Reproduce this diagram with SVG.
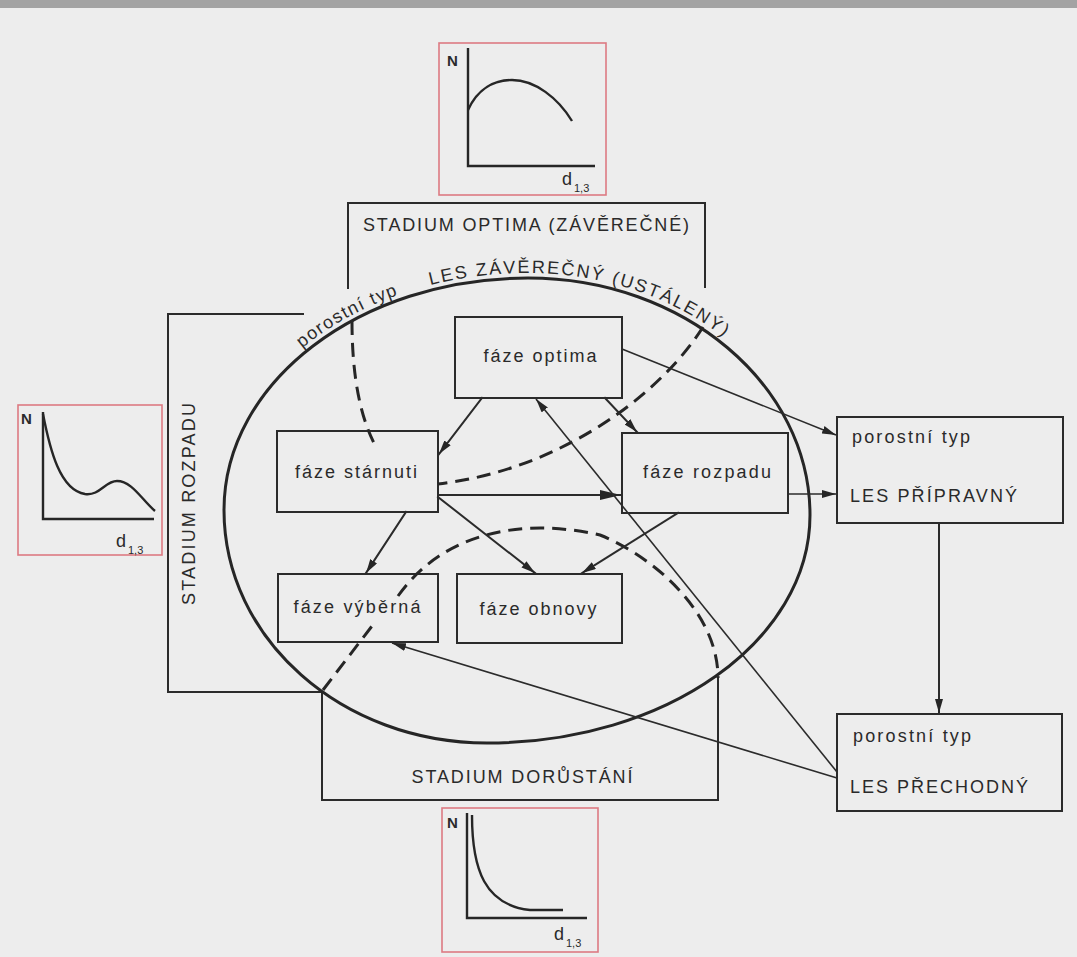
<svg xmlns="http://www.w3.org/2000/svg" width="1077" height="957" viewBox="0 0 1077 957">
<style>
.ln{fill:none;stroke:#2b2b2b;stroke-width:2;stroke-linecap:square}
.thin{fill:none;stroke:#2b2b2b;stroke-width:1.6}
.ell{fill:none;stroke:#262626;stroke-width:3}
.dash{fill:none;stroke:#262626;stroke-width:3;stroke-dasharray:14 8}
.box{fill:none;stroke:#2b2b2b;stroke-width:2}
.red{fill:none;stroke:#dc7a82;stroke-width:1.6}
.ax{fill:none;stroke:#262626;stroke-width:2.4}
.t{font-family:"Liberation Sans",Arial,sans-serif;font-size:18px;fill:#2a2a2a}
.c{text-anchor:middle}
.g{font-family:"Liberation Sans",Arial,sans-serif;fill:#2a2a2a}
</style>
<defs>
<marker id="ah" markerUnits="userSpaceOnUse" markerWidth="15" markerHeight="8" refX="14" refY="4" orient="auto">
<path d="M0,0 L14,4 L0,8 z" fill="#262626"/>
</marker>
<marker id="ahb" markerUnits="userSpaceOnUse" markerWidth="22" markerHeight="10" refX="21" refY="5" orient="auto">
<path d="M0,0 L21,5 L0,10 z" fill="#262626"/>
</marker>
<path id="arcTop" d="M219,510 C219,379 357,273 528,273 C686.5,273 815,380 815,512"/>
</defs>
<rect x="0" y="0" width="1077" height="957" fill="#ededed"/>
<rect x="0" y="0" width="1077" height="8" fill="#a3a3a3"/>

<!-- stage frames -->
<g id="stadium-optima">
<path class="ln" d="M348,288 L348,203 L705,203 L705,287"/>
<text class="t c" x="526" y="231" textLength="326" lengthAdjust="spacing">STADIUM OPTIMA (ZÁVĚREČNÉ)</text>
</g>
<g id="stadium-rozpadu">
<path class="ln" d="M303,314 L168,314 L168,692 L322,692"/>
<text class="t c" transform="translate(195,504) rotate(-90)" x="0" y="0" textLength="202" lengthAdjust="spacing">STADIUM ROZPADU</text>
</g>
<g id="stadium-dorustani">
<path class="ln" d="M322,692 L322,800 L718,800 L718,678"/>
<text class="t c" x="522" y="783" textLength="221" lengthAdjust="spacing">STADIUM DORŮSTÁNÍ</text>
</g>

<!-- big ellipse -->
<g id="les-zaverecny">
<path class="ell" d="M224,510 C224,382 360,278 528,278 C684,278 810,385 810,515 C810,641 666,743 487,743 C342,743 224,639 224,510 Z"/>
<text class="t c"><textPath href="#arcTop" startOffset="243" textLength="110" lengthAdjust="spacing">porostní typ</textPath></text>
<text class="t c"><textPath href="#arcTop" startOffset="486" textLength="308" lengthAdjust="spacing">LES ZÁVĚREČNÝ (USTÁLENÝ)</textPath></text>
</g>

<!-- phase nodes -->
<g id="faze-optima">
<rect class="box" x="455" y="317" width="167" height="81"/>
<text class="t c" x="540" y="362" textLength="113" lengthAdjust="spacing">fáze optima</text>
</g>
<g id="faze-starnuti">
<rect class="box" x="277" y="431" width="161" height="81"/>
<text class="t c" x="356" y="478" textLength="122" lengthAdjust="spacing">fáze stárnuti</text>
</g>
<g id="faze-rozpadu">
<rect class="box" x="622" y="433" width="166" height="80"/>
<text class="t c" x="707" y="478" textLength="128" lengthAdjust="spacing">fáze rozpadu</text>
</g>
<g id="faze-vyberna">
<rect class="box" x="278" y="574" width="160" height="68"/>
<text class="t c" x="357" y="613" textLength="127" lengthAdjust="spacing">fáze výběrná</text>
</g>
<g id="faze-obnovy">
<rect class="box" x="457" y="574" width="165" height="69"/>
<text class="t c" x="538" y="615" textLength="117" lengthAdjust="spacing">fáze obnovy</text>
</g>

<!-- forest types -->
<g id="les-pripravny">
<rect class="box" x="837" y="417" width="226" height="106"/>
<text class="t" x="852" y="443" textLength="118" lengthAdjust="spacing">porostní typ</text>
<text class="t" x="850" y="502" textLength="167" lengthAdjust="spacing">LES PŘÍPRAVNÝ</text>
</g>
<g id="les-prechodny">
<rect class="box" x="837" y="714" width="225" height="97"/>
<text class="t" x="853" y="742" textLength="118" lengthAdjust="spacing">porostní typ</text>
<text class="t" x="850" y="793" textLength="178" lengthAdjust="spacing">LES PŘECHODNÝ</text>
</g>

<!-- graphs -->
<g id="graf-optima">
<rect class="red" x="439" y="43" width="167" height="152"/>
<path class="ax" d="M468,48 L468,166 L595,166"/>
<path class="ax" d="M468,110 C478,88 495,80 512,80 C535,80 558,98 572,121"/>
<text class="g" x="447" y="66" font-size="15" font-weight="bold">N</text>
<text class="g" x="562" y="185" font-size="18">d</text>
<text class="g" x="574" y="192" font-size="11">1,3</text>
</g>
<g id="graf-rozpad">
<rect class="red" x="18" y="405" width="144" height="150"/>
<path class="ax" d="M43,412 L43,519 L154,519"/>
<path class="ax" d="M43,414 C50,450 60,490 85,494 C100,496 105,481 117,481 C132,481 142,500 155,511"/>
<text class="g" x="21" y="424" font-size="15" font-weight="bold">N</text>
<text class="g" x="116" y="547" font-size="18">d</text>
<text class="g" x="128" y="554" font-size="11">1,3</text>
</g>
<g id="graf-dorustani">
<rect class="red" x="442" y="808" width="156" height="144"/>
<path class="ax" d="M467,813 L467,918 L587,918"/>
<path class="ax" d="M472,815 C472,870 485,905 530,910 L563,910"/>
<text class="g" x="447" y="828" font-size="15" font-weight="bold">N</text>
<text class="g" x="554" y="940" font-size="18">d</text>
<text class="g" x="566" y="947" font-size="11">1,3</text>
</g>

<!-- connectors -->
<g id="connectors">
<path class="dash" d="M352,321 C352,360 356,410 376,447"/>
<path class="dash" d="M703,327 C660,395 560,470 438,484"/>
<path class="dash" d="M323,690 L372,626"/>
<path class="dash" d="M398,596 C445,530 525,518 600,535 C650,555 718,610 718,678"/>
<line class="ln" x1="482" y1="398" x2="439" y2="454" marker-end="url(#ah)"/>
<line class="ln" x1="605" y1="398" x2="637" y2="432" marker-end="url(#ah)"/>
<line class="ln" x1="438" y1="495" x2="621" y2="495" marker-end="url(#ahb)"/>
<line class="ln" x1="406" y1="512" x2="366" y2="573" marker-end="url(#ah)"/>
<line class="ln" x1="438" y1="497" x2="535" y2="573" marker-end="url(#ah)"/>
<line class="ln" x1="678" y1="513" x2="582" y2="573" marker-end="url(#ah)"/>
<line class="thin" x1="837" y1="772" x2="536" y2="399" marker-end="url(#ah)"/>
<line class="thin" x1="837" y1="778" x2="392" y2="643" marker-end="url(#ah)"/>
<line class="thin" x1="622" y1="349" x2="836" y2="435" marker-end="url(#ah)"/>
<line class="thin" x1="788" y1="494" x2="836" y2="494" marker-end="url(#ah)"/>
<line class="ln" x1="939" y1="523" x2="939" y2="713" marker-end="url(#ah)"/>
</g>
</svg>
